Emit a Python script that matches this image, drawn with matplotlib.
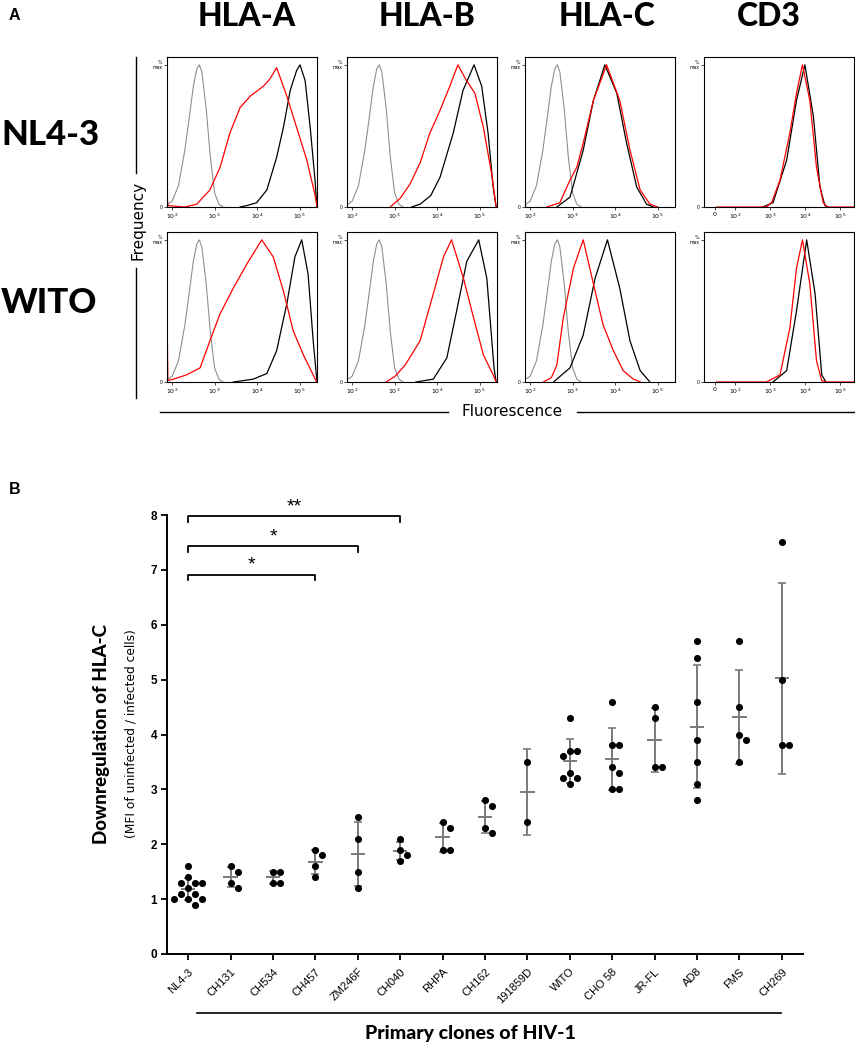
import numpy as np
import matplotlib.pyplot as plt
from matplotlib.lines import Line2D

W, H = 855, 1050

# ---------------- panel A : flow histograms (log10 fluorescence, % of max) ----------------
markers = ["HLA-A", "HLA-B", "HLA-C", "CD3"]
viruses_a = ["NL4-3", "WITO"]

# isotype control (grey), same in every HLA panel
iso = [(1.85, 1), (2.0, 4), (2.15, 15), (2.3, 40), (2.4, 62), (2.5, 85), (2.58, 97), (2.64, 100),
       (2.7, 95), (2.8, 70), (2.9, 35), (3.0, 10), (3.1, 2), (3.2, 0)]

# NL4-3 infected (red) / uninfected (black)
nl43_hlaa_inf = [(1.882, 9), (1.9, 1), (2.3, 0), (2.58, 2), (2.89, 12), (3.13, 28), (3.36, 52), (3.6, 70),
                 (3.84, 78), (4.15, 85), (4.3, 90), (4.46, 98), (4.7, 78), (4.93, 56), (5.17, 33), (5.36, 9), (5.41, 0)]
nl43_hlaa_mock = [(3.6, 0), (3.76, 1), (3.99, 3), (4.23, 12), (4.46, 35), (4.62, 56), (4.78, 82), (4.93, 96),
                  (5.01, 100), (5.13, 89), (5.25, 56), (5.36, 20), (5.41, 0)]
nl43_hlab_inf = [(2.9, 0), (3.01, 3), (3.13, 6), (3.36, 16), (3.6, 31), (3.83, 52), (4.07, 68), (4.3, 85),
                 (4.49, 100), (4.69, 89), (4.89, 80), (5.09, 56), (5.28, 24), (5.39, 0)]
nl43_hlab_mock = [(3.4, 0), (3.6, 2), (3.85, 8), (4.07, 21), (4.38, 52), (4.61, 82), (4.87, 100), (5.05, 85),
                  (5.2, 52), (5.32, 14), (5.39, 0)]
nl43_hlac_inf = [(2.39, 0), (2.7, 3), (2.94, 19), (3.1, 28), (3.25, 45), (3.49, 75), (3.8, 100), (4.11, 75),
                 (4.35, 40), (4.59, 12), (4.82, 2), (5.0, 0)]
nl43_hlac_mock = [(2.63, 0), (2.94, 7), (3.25, 40), (3.49, 75), (3.76, 100), (4.04, 80), (4.27, 45),
                  (4.51, 14), (4.74, 2), (4.9, 0)]
nl43_cd3_inf = [(1.0, 0), (2.9, 0), (3.05, 3), (3.29, 19), (3.57, 52), (3.76, 80), (3.93, 100), (4.14, 75),
                (4.33, 28), (4.52, 3), (4.65, 0), (5.4, 0)]
nl43_cd3_mock = [(2.8, 0), (3.09, 3), (3.48, 33), (3.76, 75), (4.0, 100), (4.24, 64), (4.43, 14), (4.57, 1),
                 (4.65, 0)]

# WITO infected (red) / uninfected (black)
wito_hlaa_inf = [(1.882, 45), (1.9, 1), (2.03, 2), (2.34, 5), (2.66, 10), (2.89, 29), (3.13, 48), (3.44, 66),
                 (3.76, 83), (4.11, 100), (4.38, 88), (4.62, 64), (4.85, 36), (5.09, 19), (5.32, 5), (5.4, 0)]
wito_hlaa_mock = [(3.44, 0), (3.91, 2), (4.23, 6), (4.46, 22), (4.7, 55), (4.89, 88), (5.05, 100), (5.2, 76),
                  (5.32, 29), (5.41, 0)]
wito_hlab_inf = [(2.8, 0), (3.01, 4), (3.25, 12), (3.6, 29), (3.91, 62), (4.15, 88), (4.34, 100), (4.62, 73),
                 (4.86, 45), (5.09, 19), (5.32, 5), (5.39, 0)]
wito_hlab_mock = [(3.5, 0), (3.91, 2), (4.23, 17), (4.46, 50), (4.7, 85), (4.98, 100), (5.17, 73), (5.34, 10),
                  (5.39, 0)]
wito_hlac_inf = [(2.31, 0), (2.5, 3), (2.63, 12), (2.78, 45), (3.02, 80), (3.25, 100), (3.49, 69), (3.72, 40),
                 (3.96, 22), (4.19, 8), (4.43, 2), (4.6, 0)]
wito_hlac_mock = [(2.55, 0), (2.94, 10), (3.25, 33), (3.53, 73), (3.82, 100), (4.11, 66), (4.35, 29),
                  (4.59, 8), (4.82, 0)]
wito_cd3_inf = [(1.0, 0), (2.9, 0), (3.29, 5), (3.57, 38), (3.76, 80), (3.93, 100), (4.14, 69), (4.33, 15),
                (4.48, 1), (4.6, 0), (5.4, 0)]
wito_cd3_mock = [(3.09, 0), (3.48, 8), (3.76, 50), (4.05, 100), (4.29, 62), (4.48, 5), (4.6, 0)]

histos = {
    ("NL4-3", "HLA-A"): (nl43_hlaa_inf, nl43_hlaa_mock),
    ("NL4-3", "HLA-B"): (nl43_hlab_inf, nl43_hlab_mock),
    ("NL4-3", "HLA-C"): (nl43_hlac_inf, nl43_hlac_mock),
    ("NL4-3", "CD3"): (nl43_cd3_inf, nl43_cd3_mock),
    ("WITO", "HLA-A"): (wito_hlaa_inf, wito_hlaa_mock),
    ("WITO", "HLA-B"): (wito_hlab_inf, wito_hlab_mock),
    ("WITO", "HLA-C"): (wito_hlac_inf, wito_hlac_mock),
    ("WITO", "CD3"): (wito_cd3_inf, wito_cd3_mock),
}

# ---------------- panel B : HLA-C downregulation ----------------
clones = ["NL4-3", "CH131", "CH534", "CH457", "ZM246F", "CH040", "RHPA", "CH162",
          "191859D", "WITO", "CHO 58", "JR-FL", "AD8", "FMS", "CH269"]
r_nl43 = [1.6, 1.4, 1.3, 1.3, 1.3, 1.2, 1.1, 1.1, 1.0, 1.0, 1.0, 0.9]
r_ch131 = [1.6, 1.5, 1.3, 1.2]
r_ch534 = [1.5, 1.5, 1.3, 1.3]
r_ch457 = [1.9, 1.8, 1.6, 1.4]
r_zm246f = [2.5, 2.1, 1.5, 1.2]
r_ch040 = [2.1, 1.9, 1.8, 1.7]
r_rhpa = [2.4, 2.3, 1.9, 1.9]
r_ch162 = [2.8, 2.7, 2.3, 2.2]
r_191859d = [3.5, 2.4]
r_wito = [4.3, 3.7, 3.7, 3.6, 3.3, 3.2, 3.2, 3.1]
r_cho58 = [4.6, 3.8, 3.8, 3.4, 3.3, 3.0, 3.0]
r_jrfl = [4.5, 4.3, 3.4, 3.4]
r_ad8 = [5.7, 5.4, 4.6, 3.9, 3.5, 3.1, 2.8]
r_fms = [5.7, 4.5, 4.0, 3.9, 3.5]
r_ch269 = [7.5, 5.0, 3.8, 3.8]
ratios = [r_nl43, r_ch131, r_ch534, r_ch457, r_zm246f, r_ch040, r_rhpa, r_ch162,
          r_191859d, r_wito, r_cho58, r_jrfl, r_ad8, r_fms, r_ch269]

sig_pairs = [(0, 5), (0, 4), (0, 3)]
sig_levels = [7.98, 7.43, 6.91]
sig_labels = ["**", "*", "*"]

HEAD = dict(family="Lato", fontweight="black")


def fx(px):
    return px / W


def fy(py):
    return 1 - py / H


def fig_line(fig, xs, ys, lw=1.0, color="black"):
    fig.add_artist(Line2D([fx(x) for x in xs], [fy(y) for y in ys], lw=lw, color=color,
                          transform=fig.transFigure))


def swarm(vals, px_per_x, px_per_y, d=7.0):
    # simple beeswarm in pixel space
    placed, offs = [], []
    cands = [0] + [s * i for i in range(1, 30) for s in (1, -1)]
    for v in vals:
        for c in cands:
            xo = c * d / 2
            if all((xo - p) ** 2 + ((v - pv) * px_per_y) ** 2 >= (0.97 * d) ** 2 for p, pv in placed):
                break
        placed.append((xo, v))
        offs.append(xo / px_per_x)
    return np.array(offs)


fig = plt.figure(figsize=(W / 100, H / 100), dpi=100)

col_left = [167, 347, 525, 704]
row_top = [57, 232]
box_w, box_h = 150, 150

for r, virus in enumerate(viruses_a):
    for c, mk in enumerate(markers):
        ax = fig.add_axes([fx(col_left[c]), fy(row_top[r] + box_h), box_w / W, box_h / H])
        inf, mock = histos[(virus, mk)]
        if mk == "CD3":
            ax.set_xscale("symlog", linthresh=100, linscale=0.51)
            ax.set_xlim(-55, 10 ** 5.4)
            ticks = [0, 1e2, 1e3, 1e4, 1e5]
            labels = ["0", "$10^2$", "$10^3$", "$10^4$", "$10^5$"]
        else:
            ax.set_xscale("log")
            ax.set_xlim(10 ** 1.88, 10 ** 5.41)
            ticks = [1e2, 1e3, 1e4, 1e5]
            labels = ["$10^2$", "$10^3$", "$10^4$", "$10^5$"]
            gx, gy = zip(*iso)
            ax.plot(10 ** np.array(gx), gy, color="#8f8f8f", lw=0.8)
        mx, my = zip(*mock)
        ax.plot(10 ** np.array(mx), my, color="black", lw=0.9)
        ix, iy = zip(*inf)
        ax.plot(10 ** np.array(ix), iy, color="red", lw=0.9)
        ax.set_ylim(0, 105.5)
        ax.set_xticks(ticks)
        ax.set_xticklabels(labels, fontsize=4.5)
        ax.set_yticks([0, 100])
        ax.set_yticklabels(["0", "%\nmax"], fontsize=3.3, linespacing=0.8)
        ax.tick_params(length=2, width=0.5, pad=1.5)
        ax.tick_params(which="minor", length=1.2, width=0.4)
        for s in ax.spines.values():
            s.set_linewidth(0.8)

# titles and row labels of panel A
for c, mk in enumerate(markers):
    fig.text(fx([247, 427, 607, 769][c]), fy(17), mk, fontsize=23, ha="center", va="center", **HEAD)
fig.text(fx(50), fy(135), "NL4-3", fontsize=25, ha="center", va="center", **HEAD)
fig.text(fx(49), fy(303), "WITO", fontsize=25, ha="center", va="center", **HEAD)
fig.text(fx(9), fy(15), "A", fontsize=11.5, fontweight="bold", family="Liberation Sans", ha="left", va="center")

fig.text(fx(138), fy(220), "Frequency", fontsize=11, rotation=90, ha="center", va="center")
fig_line(fig, [136, 136], [57, 173])
fig_line(fig, [136, 136], [268, 398])
fig.text(fx(512), fy(412), "Fluorescence", fontsize=11, ha="center", va="center")
fig_line(fig, [160, 448], [412, 412])
fig_line(fig, [577, 854], [412, 412])

# ---------------- panel B ----------------
bx0, bx1, by0, by1 = 167, 803, 954, 515
axb = fig.add_axes([fx(bx0), fy(by0), (bx1 - bx0) / W, (by0 - by1) / H])
axb.set_xlim(-0.5, len(clones) - 0.5)
axb.set_ylim(0, 8)
px_x = (bx1 - bx0) / len(clones)
px_y = (by0 - by1) / 8

for i, vals in enumerate(ratios):
    vals = np.array(vals)
    offs = swarm(vals, px_x, px_y)
    axb.scatter(i + offs, vals, s=26, color="black", zorder=3, linewidths=0)
    m, sd = vals.mean(), vals.std(ddof=1)
    axb.errorbar(i, m, yerr=sd, color="#7a7a7a", lw=1.4, capsize=2.6, capthick=1.2, zorder=2)
    axb.hlines(m, i - 0.17, i + 0.17, color="#7a7a7a", lw=1.4, zorder=2)

for (a, b), lvl, lab in zip(sig_pairs, sig_levels, sig_labels):
    axb.plot([a, a, b, b], [lvl - 0.1, lvl, lvl, lvl - 0.1], color="black", lw=1.3, clip_on=False)
    axb.text((a + b) / 2, lvl + 0.02, lab, fontsize=14, ha="center", va="bottom",
             family="Liberation Sans")

axb.spines["top"].set_visible(False)
axb.spines["right"].set_visible(False)
axb.spines["left"].set_linewidth(1.4)
axb.spines["bottom"].set_linewidth(1.4)
axb.set_yticks(range(0, 9))
axb.set_yticklabels([str(v) for v in range(0, 9)], fontsize=8.5, fontweight="bold", family="Liberation Sans")
axb.set_xticks(range(len(clones)))
axb.set_xticklabels(clones, rotation=45, ha="right", va="top", rotation_mode="anchor",
                    fontsize=8, family="Liberation Sans")
axb.tick_params(length=4, width=1.3, pad=3)
axb.tick_params(axis="x", pad=5)

fig.text(fx(101), fy(734), "Downregulation of HLA-C", fontsize=13.5, rotation=90,
         ha="center", va="center", **HEAD)
fig.text(fx(131), fy(734), "(MFI of uninfected / infected cells)", fontsize=8.8,
         rotation=90, ha="center", va="center")
fig.text(fx(9), fy(490), "B", fontsize=11.5, fontweight="bold", family="Liberation Sans", ha="left", va="center")
fig_line(fig, [197, 781], [1013, 1013], lw=1.2)
fig.text(fx(470), fy(1034), "Primary clones of HIV-1", fontsize=14, ha="center", va="center", **HEAD)

fig.savefig("out.png", dpi=100)
